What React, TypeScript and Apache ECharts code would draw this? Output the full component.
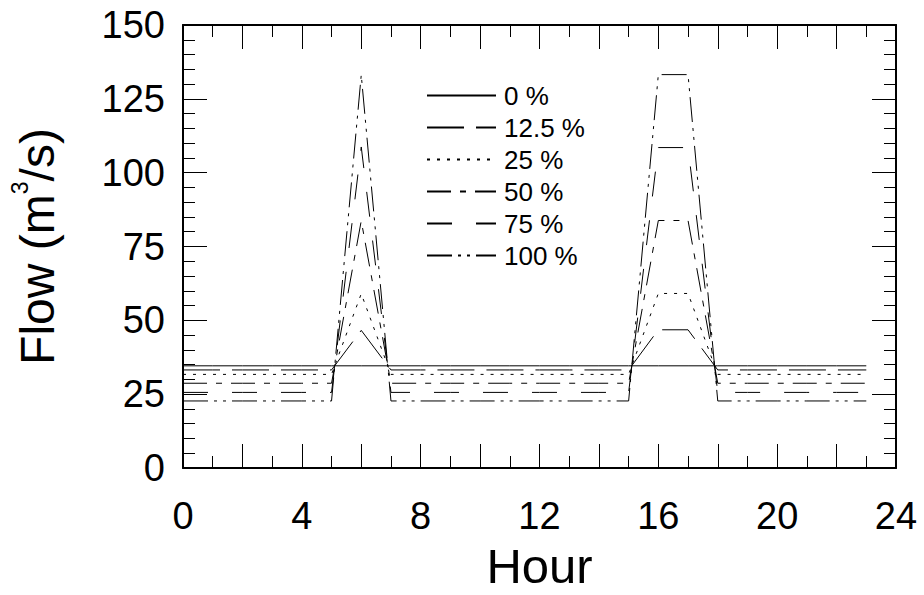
import React, { useEffect, useRef } from "react";
import * as echarts from "echarts";

const hours = [0, 1, 2, 3, 4, 5, 6, 7, 8, 9, 10, 11, 12, 13, 14, 15, 16, 17, 18, 19, 20, 21, 22, 23];

const flow0 = [34.6, 34.6, 34.6, 34.6, 34.6, 34.6, 34.6, 34.6, 34.6, 34.6, 34.6, 34.6, 34.6, 34.6, 34.6, 34.6, 34.6, 34.6, 34.6, 34.6, 34.6, 34.6, 34.6, 34.6];
const flow125 = [33.2, 33.2, 33.2, 33.2, 33.2, 33.2, 46.6, 33.2, 33.2, 33.2, 33.2, 33.2, 33.2, 33.2, 33.2, 33.2, 46.8, 46.8, 33.2, 33.2, 33.2, 33.2, 33.2, 33.2];
const flow25 = [31.7, 31.7, 31.7, 31.7, 31.7, 31.7, 59.0, 31.7, 31.7, 31.7, 31.7, 31.7, 31.7, 31.7, 31.7, 31.7, 59.1, 59.1, 31.7, 31.7, 31.7, 31.7, 31.7, 31.7];
const flow50 = [28.7, 28.7, 28.7, 28.7, 28.7, 28.7, 83.7, 28.7, 28.7, 28.7, 28.7, 28.7, 28.7, 28.7, 28.7, 28.7, 83.8, 83.8, 28.7, 28.7, 28.7, 28.7, 28.7, 28.7];
const flow75 = [25.6, 25.6, 25.6, 25.6, 25.6, 25.6, 108.7, 25.6, 25.6, 25.6, 25.6, 25.6, 25.6, 25.6, 25.6, 25.6, 108.5, 108.5, 25.6, 25.6, 25.6, 25.6, 25.6, 25.6];
const flow100 = [22.7, 22.7, 22.7, 22.7, 22.7, 22.7, 133.1, 22.7, 22.7, 22.7, 22.7, 22.7, 22.7, 22.7, 22.7, 22.7, 133.2, 133.2, 22.7, 22.7, 22.7, 22.7, 22.7, 22.7];

const seriesNames = ["0 %", "12.5 %", "25 %", "50 %", "75 %", "100 %"];
const seriesValues = [flow0, flow125, flow25, flow50, flow75, flow100];
const dashPatterns: (string | number[])[] = [
  "solid",
  [37, 12],
  [3, 7],
  [24, 9, 6, 9],
  [25, 24],
  [25, 6, 3, 6, 3, 6],
];

const xTickLabels = [0, 4, 8, 12, 16, 20, 24];
const yTickLabels = [0, 25, 50, 75, 100, 125, 150];

const FONT = "'Liberation Sans', Arial, Helvetica, sans-serif";

export default function App() {
  const ref = useRef<HTMLDivElement>(null);
  useEffect(() => {
    if (!ref.current) return;
    const chart = echarts.init(ref.current, null, { renderer: "svg" });

    const axisCommon = {
      axisLine: { show: true, onZero: false, lineStyle: { color: "#000", width: 2 } },
      splitLine: { show: false },
    };

    const xBase = {
      type: "value" as const,
      min: 0,
      max: 24,
      interval: 2,
      ...axisCommon,
      axisTick: { show: true, inside: true, length: 24, lineStyle: { color: "#000", width: 1 } },
      minorTick: { show: true, splitNumber: 2, length: 12, lineStyle: { color: "#000", width: 1 } },
    };
    const yBase = {
      type: "value" as const,
      min: 0,
      max: 150,
      interval: 25,
      ...axisCommon,
      axisTick: { show: true, inside: true, length: 24, lineStyle: { color: "#000", width: 1 } },
      minorTick: { show: true, splitNumber: 5, length: 12, lineStyle: { color: "#000", width: 1 } },
    };

    chart.setOption({
      animation: false,
      backgroundColor: "#fff",
      textStyle: { fontFamily: FONT },
      grid: { left: 180, right: 28, top: 25, bottom: 123, containLabel: false },
      legend: {
        show: true,
        data: seriesNames,
        orient: "vertical",
        left: 421,
        top: 77.5,
        itemWidth: 69,
        itemHeight: 25,
        itemGap: 6,
        selectedMode: false,
        itemStyle: { opacity: 0 },
        textStyle: {
          fontFamily: FONT,
          fontSize: 26,
          color: "#000",
          lineHeight: 25,
          padding: [0, 0, 0, 3],
        },
      },
      xAxis: [
        {
          ...xBase,
          position: "bottom",
          axisLabel: {
            show: true,
            margin: 29,
            fontSize: 38,
            fontFamily: FONT,
            color: "#000",
            formatter: (v: number) => (xTickLabels.includes(v) ? String(v) : ""),
          },
          name: "Hour",
          nameLocation: "middle",
          nameGap: 73,
          nameTextStyle: { fontSize: 49, fontFamily: FONT, color: "#000" },
        },
        {
          ...xBase,
          position: "top",
          axisLabel: { show: false },
        },
      ],
      yAxis: [
        {
          ...yBase,
          position: "left",
          axisLabel: {
            show: true,
            margin: 18,
            fontSize: 38,
            fontFamily: FONT,
            color: "#000",
            formatter: (v: number) => (yTickLabels.includes(v) ? String(v) : ""),
          },
          name: "{a|Flow (m}{b|3}{a|/s)}",
          nameLocation: "middle",
          nameRotate: 90,
          nameGap: 117,
          nameTextStyle: {
            fontSize: 48,
            fontFamily: FONT,
            color: "#000",
            rich: {
              a: { fontSize: 48, fontFamily: FONT, color: "#000", lineHeight: 58 },
              b: { fontSize: 23, fontFamily: FONT, color: "#000", lineHeight: 23, verticalAlign: "top" },
            },
          },
        },
        {
          ...yBase,
          position: "right",
          axisLabel: { show: false },
        },
      ],
      series: seriesNames.map((name, i) => ({
        name,
        type: "line",
        xAxisIndex: 0,
        yAxisIndex: 0,
        symbol: "none",
        showSymbol: false,
        color: "#000",
        lineStyle: { color: "#000", width: 1, type: dashPatterns[i] },
        data: hours.map((h, j) => [h, seriesValues[i][j]]),
      })),
    });

    return () => chart.dispose();
  }, []);

  return <div ref={ref} style={{ width: 924, height: 595, position: "absolute", left: 0, top: 0 }} />;
}
